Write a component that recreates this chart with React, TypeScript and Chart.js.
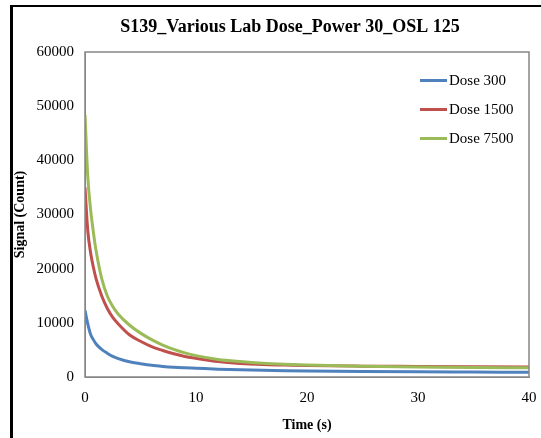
import React, { useEffect, useRef } from "react";
import { Chart, registerables } from "chart.js";

Chart.register(...registerables);

const chartTitle = "S139_Various Lab Dose_Power 30_OSL 125";
const xTitle = "Time (s)";
const yTitle = "Signal (Count)";
const seriesNames = ["Dose 300", "Dose 1500", "Dose 7500"];
const seriesColors = ["#4F81BD", "#C0504D", "#9BBB59"];

const times = [0, 0.25, 0.5, 0.75, 1, 1.5, 2, 2.5, 3, 4, 5, 6, 7, 8, 9, 10, 12, 14, 16, 18, 20, 25, 30, 35, 40];
const dose300 = [12300, 9800, 7900, 6900, 6100, 5100, 4400, 3800, 3400, 2800, 2450, 2150, 1950, 1800, 1700, 1620, 1450, 1330, 1240, 1170, 1120, 1030, 960, 920, 880];
const dose1500 = [35000, 27000, 23000, 20300, 18100, 15000, 12700, 11000, 9800, 7800, 6600, 5600, 4900, 4300, 3800, 3450, 2850, 2500, 2300, 2200, 2100, 2000, 1950, 1900, 1850];
const dose7500 = [48400, 37000, 31000, 26800, 23300, 18200, 15000, 13000, 11600, 9600, 8100, 6900, 5900, 5100, 4450, 3950, 3250, 2850, 2550, 2350, 2200, 2000, 1850, 1750, 1700];

const xMin = 0;
const xMax = 40;
const xStep = 10;
const yMin = 0;
const yMax = 60000;
const yStep = 10000;

const FONT = "'Liberation Serif', 'Times New Roman', serif";

export default function App() {
  const ref = useRef<HTMLCanvasElement | null>(null);

  useEffect(() => {
    document.body.style.margin = "0";
    const canvas = ref.current;
    if (!canvas) return;
    const series = [dose300, dose1500, dose7500];

    const framePlugin = {
      id: "framePlugin",
      afterDraw(chart: any) {
        const { ctx, chartArea } = chart;
        ctx.save();
        ctx.strokeStyle = "#868686";
        ctx.lineWidth = 1.5;
        ctx.strokeRect(chartArea.left, chartArea.top, chartArea.right - chartArea.left, chartArea.bottom - chartArea.top);
        ctx.fillStyle = "#000";
        ctx.font = "bold 18px " + FONT;
        ctx.textAlign = "center";
        ctx.textBaseline = "middle";
        ctx.fillText(chartTitle, 290, 27);
        ctx.font = "15px " + FONT;
        ctx.textAlign = "left";
        const rows = [80.5, 109.5, 138.5];
        seriesNames.forEach((name, i) => {
          ctx.strokeStyle = seriesColors[i];
          ctx.lineWidth = 3;
          ctx.beginPath();
          ctx.moveTo(420, rows[i]);
          ctx.lineTo(447, rows[i]);
          ctx.stroke();
          ctx.fillStyle = "#000";
          ctx.fillText(name, 449, rows[i] + 1);
        });
        ctx.restore();
      },
    };

    const plain = (v: any) => String(v);

    const chart = new Chart(canvas, {
      type: "line",
      data: {
        datasets: seriesNames.map((name, i) => ({
          label: name,
          data: times.map((t, j) => ({ x: t, y: series[i][j] })),
          borderColor: seriesColors[i],
          backgroundColor: seriesColors[i],
          borderWidth: 3,
          pointRadius: 0,
          cubicInterpolationMode: "monotone" as const,
          fill: false,
          order: 2 - i,
        })),
      },
      options: {
        responsive: false,
        animation: false,
        devicePixelRatio: 1,
        layout: { padding: { top: 52, right: 12, bottom: 0, left: 0 } },
        plugins: {
          legend: { display: false },
          title: { display: false },
          tooltip: { enabled: false },
        },
        scales: {
          x: {
            type: "linear",
            min: xMin,
            max: xMax,
            grid: { display: false, drawTicks: false },
            border: { display: true, color: "#868686", width: 1 },
            ticks: {
              stepSize: xStep,
              padding: 12,
              color: "#000",
              font: { family: FONT, size: 15 },
              maxRotation: 0,
              callback: plain,
            },
            title: {
              display: true,
              text: xTitle,
              color: "#000",
              font: { family: FONT, size: 14, weight: "bold" },
              padding: { top: 0, bottom: 4 },
            },
            afterFit(scale: any) {
              scale.height = 61;
              scale.paddingRight = 0;
              scale.paddingLeft = 0;
            },
          },
          y: {
            type: "linear",
            min: yMin,
            max: yMax,
            grid: { display: false, drawTicks: false },
            border: { display: true, color: "#868686", width: 1 },
            ticks: {
              stepSize: yStep,
              padding: 11,
              color: "#000",
              font: { family: FONT, size: 15 },
              callback: plain,
            },
            title: {
              display: true,
              text: yTitle,
              color: "#000",
              font: { family: FONT, size: 14, weight: "bold" },
              padding: { top: 12, bottom: 0 },
            },
            afterFit(scale: any) {
              scale.width = 85;
              scale.paddingTop = 0;
              scale.paddingBottom = 0;
            },
          },
        },
      },
      plugins: [framePlugin],
    } as any);

    return () => chart.destroy();
  }, []);

  return (
    <div style={{ position: "relative", width: 541, height: 438, background: "#fff", overflow: "hidden" }}>
      <canvas ref={ref} width={541} height={438} style={{ display: "block" }} />
      <div
        style={{
          position: "absolute",
          left: 10,
          top: 5,
          width: 600,
          height: 500,
          borderLeft: "3px solid #000",
          borderTop: "2px solid #000",
          pointerEvents: "none",
        }}
      />
    </div>
  );
}
